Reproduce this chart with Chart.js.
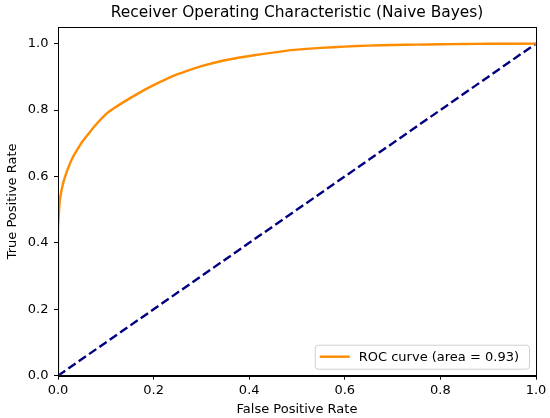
<!DOCTYPE html>
<html>
<head>
<meta charset="utf-8">
<script src="https://cdn.jsdelivr.net/npm/chart.js@4/dist/chart.umd.min.js"></script>
<style>
  html, body { margin: 0; padding: 0; background: #fff; }
  #wrap { width: 550px; height: 418px; }
</style>
</head>
<body>
<div id="wrap"><canvas id="roc"></canvas></div>
<script>
// ROC curve
var fpr = [0, 0, 0.002, 0.004, 0.01, 0.015, 0.022, 0.03, 0.04, 0.05, 0.063, 0.08, 0.1, 0.12, 0.15, 0.18, 0.2, 0.24, 0.27, 0.3, 0.34, 0.38, 0.41, 0.45, 0.48, 0.52, 0.55, 0.6, 0.65, 0.7, 0.75, 0.8, 0.85, 0.9, 1.0];
var tpr = [0, 0.44, 0.49, 0.53, 0.575, 0.60, 0.628, 0.655, 0.68, 0.703, 0.727, 0.757, 0.787, 0.808, 0.835, 0.86, 0.875, 0.902, 0.918, 0.932, 0.947, 0.958, 0.965, 0.973, 0.979, 0.984, 0.987, 0.991, 0.994, 0.996, 0.997, 0.998, 0.999, 0.9995, 1.0];
var chance = [0, 1];
var xTicks = [0, 0.2, 0.4, 0.6, 0.8, 1.0];
var yTicks = [0, 0.2, 0.4, 0.6, 0.8, 1.0];
var rocLabel = "ROC curve (area = 0.93)";
var titleText = "Receiver Operating Characteristic (Naive Bayes)";

var FONT = "'DejaVu Sans', sans-serif";

// Axes box (all four spines) and a title centred over the axes
var frame = {
    id: "frame",
    afterDraw: function (chart) {
        var a = chart.chartArea, ctx = chart.ctx;
        ctx.save();
        ctx.strokeStyle = "#000";
        ctx.lineWidth = 1;
        ctx.strokeRect(Math.round(a.left) + 0.5, Math.round(a.top) + 0.5,
            Math.round(a.right - a.left), Math.round(a.bottom - a.top));
        ctx.fillStyle = "#000";
        ctx.font = "15.4px " + FONT;
        ctx.textAlign = "center";
        ctx.textBaseline = "middle";
        ctx.fillText(titleText, (a.left + a.right) / 2, a.top - 14);
        ctx.restore();
    }
};

// matplotlib style legend, lower right inside the axes
var legendBox = {
    id: "legendBox",
    afterDraw: function (chart) {
        var a = chart.chartArea, ctx = chart.ctx;
        var ds = chart.data.datasets[0];
        ctx.save();
        ctx.font = "13px " + FONT;
        var tw = ctx.measureText(ds.label).width;
        var w = tw + 54, h = 24;
        var x = a.right - 7 - w, y = a.bottom - 7 - h;
        ctx.beginPath();
        ctx.roundRect(x + 0.5, y + 0.5, w, h, 3);
        ctx.fillStyle = "rgba(255,255,255,0.8)";
        ctx.fill();
        ctx.strokeStyle = "#d0d0d0";
        ctx.lineWidth = 1;
        ctx.stroke();
        ctx.beginPath();
        ctx.moveTo(x + 5, y + h / 2);
        ctx.lineTo(x + 35, y + h / 2);
        ctx.strokeStyle = ds.borderColor;
        ctx.lineWidth = 2.4;
        ctx.stroke();
        ctx.fillStyle = "#000";
        ctx.textBaseline = "middle";
        ctx.fillText(ds.label, x + 44, y + h / 2 + 1);
        ctx.restore();
    }
};

new Chart(document.getElementById("roc"), {
    type: "scatter",
    data: {
        datasets: [
            {
                label: rocLabel,
                data: fpr.map(function (v, i) { return { x: v, y: tpr[i] }; }),
                showLine: true,
                borderColor: "#ff8c00",
                borderWidth: 2.4,
                pointRadius: 0,
                tension: 0.2,
                fill: false
            },
            {
                label: "",
                data: chance.map(function (v) { return { x: v, y: v }; }),
                showLine: true,
                borderColor: "#000080",
                borderWidth: 2.4,
                borderDash: [8.8, 3.8],
                pointRadius: 0,
                fill: false
            }
        ]
    },
    options: {
        responsive: true,
        maintainAspectRatio: false,
        animation: false,
        layout: { padding: { left: 0, right: 14, top: 27, bottom: 0 } },
        plugins: {
            legend: { display: false },
            tooltip: { enabled: false },
            title: { display: false }
        },
        scales: {
            x: {
                type: "linear",
                min: 0,
                max: 1,
                z: 1,
                afterFit: function (s) { s.height = 42.3; },
                afterBuildTicks: function (s) { s.ticks = xTicks.map(function (v) { return { value: v }; }); },
                grid: { drawOnChartArea: false, tickLength: 4, tickColor: "#000", color: "#000" },
                border: { color: "#000" },
                ticks: {
                    color: "#000",
                    padding: 3,
                    font: { family: FONT, size: 13 },
                    callback: function (v) { return v.toFixed(1); }
                },
                title: {
                    display: true,
                    text: "False Positive Rate",
                    color: "#000",
                    font: { family: FONT, size: 13 },
                    padding: { top: 0, bottom: 1 }
                }
            },
            y: {
                type: "linear",
                min: 0,
                max: 1.05,
                z: 1,
                afterFit: function (s) { s.width = 58; },
                afterBuildTicks: function (s) { s.ticks = yTicks.map(function (v) { return { value: v }; }); },
                grid: { drawOnChartArea: false, tickLength: 4, tickColor: "#000", color: "#000" },
                border: { color: "#000" },
                ticks: {
                    color: "#000",
                    padding: 5.5,
                    font: { family: FONT, size: 13 },
                    callback: function (v) { return v.toFixed(1); }
                },
                title: {
                    display: true,
                    text: "True Positive Rate",
                    color: "#000",
                    font: { family: FONT, size: 13 },
                    padding: { top: 4.7, bottom: 0 }
                }
            }
        }
    },
    plugins: [frame, legendBox]
});
</script>
</body>
</html>
